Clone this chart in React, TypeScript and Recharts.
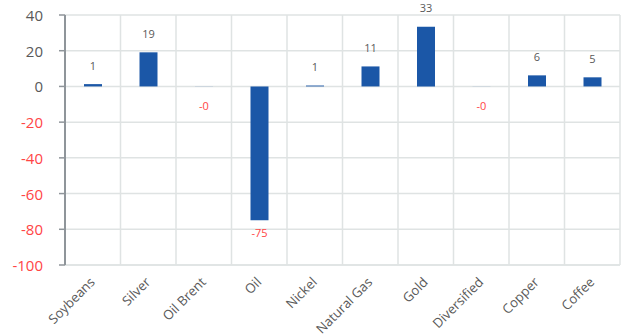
import React from "react";
import { BarChart, Bar, XAxis, YAxis, CartesianGrid, LabelList } from "recharts";

const categories = ["Soybeans", "Silver", "Oil Brent", "Oil", "Nickel", "Natural Gas", "Gold", "Diversified", "Copper", "Coffee"];
const values = [1.3, 19.1, -0.05, -75.0, 0.5, 11.2, 33.4, -0.04, 6.2, 5.1];
const yTicks = [-100, -80, -60, -40, -20, 0, 20, 40];

const data = categories.map((name, i) => ({ name, value: values[i] }));

const FONT = "'Open Sans', 'Noto Sans', sans-serif";
const BAR = "#1b57a7";
const GREY = "#595959";
const RED = "#ff4545";

const YTick = (props: any) => {
  const { x, y, payload } = props;
  const v = payload.value;
  return (
    <text x={x} y={y} textAnchor="end" dominantBaseline="central" fontSize={15} fontFamily={FONT} fill={v < 0 ? RED : GREY}>
      {v}
    </text>
  );
};

const XTick = (props: any) => {
  const { x, y, payload } = props;
  const tx = x + 3;
  const ty = y + 10;
  return (
    <text x={tx} y={ty} textAnchor="end" transform={`rotate(-45, ${tx}, ${ty})`} fontSize={13.2} fontFamily={FONT} fill={GREY}>
      {payload.value}
    </text>
  );
};

const ValueLabel = (props: any) => {
  const { x, y, width, height, value } = props;
  const top = Math.min(y, y + height);
  const bottom = Math.max(y, y + height);
  const cx = x + width / 2;
  const rounded = Math.round(value);
  const text = value < 0 && rounded === 0 ? "-0" : String(rounded);
  if (value >= 0) {
    return (
      <text x={cx} y={top - 19} textAnchor="middle" dominantBaseline="central" fontSize={11} fontFamily={FONT} fill={GREY}>
        {text}
      </text>
    );
  }
  const off = Math.abs(value) < 1 ? 19 : 12;
  return (
    <text x={cx} y={bottom + off} textAnchor="middle" dominantBaseline="central" fontSize={11} fontFamily={FONT} fill={RED}>
      {text}
    </text>
  );
};

const vertGen = ({ offset }: any) => {
  const pts: number[] = [];
  const n = categories.length;
  for (let i = 0; i <= n; i++) pts.push(offset.left + (i * offset.width) / n);
  return pts;
};

export default function App() {
  return (
    <div style={{ position: "absolute", left: 0, top: 0, width: 624, height: 336, background: "#fff" }}>
      <BarChart width={624} height={336} data={data} margin={{ top: 15, right: 4, bottom: 0, left: 0 }}>
        <CartesianGrid stroke="#dfe3e3" strokeWidth={1.5} verticalCoordinatesGenerator={vertGen} />
        <XAxis
          dataKey="name"
          height={71}
          interval={0}
          tickLine={false}
          axisLine={{ stroke: "#dfe3e3", strokeWidth: 1.5 }}
          tick={<XTick />}
        />
        <YAxis
          width={65}
          domain={[-100, 40]}
          ticks={yTicks}
          interval={0}
          tickSize={6}
          tickMargin={16}
          tickLine={{ stroke: "#8f959a", strokeWidth: 1.5 }}
          axisLine={{ stroke: "#8f959a", strokeWidth: 2 }}
          tick={<YTick />}
        />
        <Bar dataKey="value" fill={BAR} barSize={18} isAnimationActive={false}>
          <LabelList dataKey="value" content={<ValueLabel />} />
        </Bar>
      </BarChart>
    </div>
  );
}
